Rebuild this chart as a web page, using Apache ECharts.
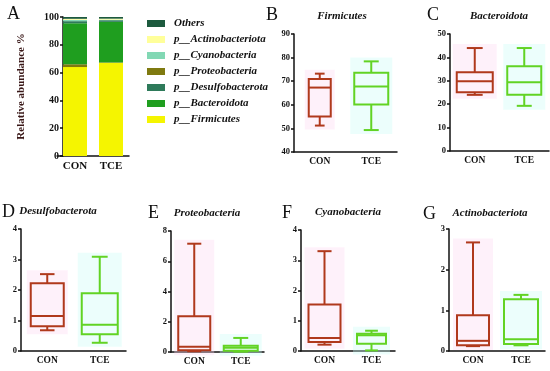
<!DOCTYPE html>
<html><head><meta charset="utf-8">
<script src="https://cdn.jsdelivr.net/npm/echarts@6/dist/echarts.min.js"></script>
<style>html,body{margin:0;padding:0;background:#fff}#c{width:550px;height:371px}</style>
</head><body><div id="c"></div>
<script>
const categories = ['CON', 'TCE'];
// Panel A: stacked relative abundance (bottom to top stacking order)
const stackNames = ['p__Firmicutes', 'p__Proteobacteria', 'p__Bacteroidota', 'p__Desulfobacterota', 'p__Cyanobacteria', 'p__Actinobacteriota', 'Others'];
const legendOrder = ['Others', 'p__Actinobacteriota', 'p__Cyanobacteria', 'p__Proteobacteria', 'p__Desulfobacterota', 'p__Bacteroidota', 'p__Firmicutes'];
const abundCON = [64.0, 2.0, 29.5, 1.5, 1.0, 0.7, 1.3];
const abundTCE = [67.0, 0.3, 29.2, 1.2, 0.4, 0.7, 1.2];
const abundTicks = [0, 20, 40, 60, 80, 100];

// Box plots: [min, Q1, median, Q3, max]
const firmCON = [51.2, 55.0, 67.3, 70.9, 73.2];
const firmTCE = [49.3, 60.1, 67.8, 73.6, 78.4];
const bactCON = [24.0, 25.1, 29.8, 33.7, 44.0];
const bactTCE = [19.3, 24.0, 29.4, 36.2, 44.0];
const desuCON = [0.68, 0.81, 1.15, 2.22, 2.52];
const desuTCE = [0.27, 0.55, 0.86, 1.89, 3.09];
const protCON = [0.05, 0.12, 0.35, 2.36, 7.16];
const protTCE = [0.02, 0.08, 0.28, 0.42, 0.93];
const cyanCON = [0.21, 0.30, 0.43, 1.54, 3.30];
const cyanTCE = [0.02, 0.24, 0.52, 0.57, 0.67];
const actiCON = [0.12, 0.14, 0.25, 0.88, 2.67];
const actiTCE = [0.14, 0.17, 0.29, 1.27, 1.38];

const FONT = '"Liberation Serif", "DejaVu Serif", serif';
const RED = '#b0391c', GREEN = '#62d324';
const TINT = ['rgba(252,214,240,0.35)', 'rgba(200,252,246,0.35)'];
const stackColors = {
  'p__Firmicutes': '#f5f500', 'p__Proteobacteria': '#7f7a10', 'p__Bacteroidota': '#1f9e1f',
  'p__Desulfobacterota': '#2e7a5a', 'p__Cyanobacteria': '#82d8b4', 'p__Actinobacteriota': '#ffff9a', 'Others': '#1d5a3e'
};

const panels = [
  {key:'B', title:'Firmicutes', con:firmCON, tce:firmTCE, min:40, max:90, iv:10, grid:{left:294, right:153, top:34, bottom:219}, bw:[22,34], letter:[266,6], tpos:[342,16]},
  {key:'C', title:'Bacteroidota', con:bactCON, tce:bactTCE, min:0, max:50, iv:10, grid:{left:450, right:1, top:34, bottom:220}, bw:[36,34], letter:[427,6], tpos:[499,16]},
  {key:'D', title:'Desulfobacterota', con:desuCON, tce:desuTCE, min:0, max:4, iv:1, grid:{left:21, right:424, top:229, bottom:20}, bw:[33,36], letter:[2,203], tpos:[58,211]},
  {key:'E', title:'Proteobacteria', con:protCON, tce:protTCE, min:0, max:8, iv:2, grid:{left:171, right:286, top:231, bottom:19}, bw:[32,34], letter:[148,204], tpos:[207,213]},
  {key:'F', title:'Cyanobacteria', con:cyanCON, tce:cyanTCE, min:0, max:4, iv:1, grid:{left:301, right:155, top:230, bottom:20}, bw:[32,29], letter:[282,204], tpos:[348,212]},
  {key:'G', title:'Actinobacteriota', con:actiCON, tce:actiTCE, min:0, max:3, iv:1, grid:{left:449, right:5, top:229, bottom:20}, bw:[32,34], letter:[423,205], tpos:[490,213]}
];

const grids = [{left:57, right:421, top:17, bottom:215}];
const xAxes = [{
  type:'category', data:categories, gridIndex:0,
  axisLine:{lineStyle:{color:'#111', width:1.5}},
  axisTick:{alignWithLabel:true, length:3, lineStyle:{color:'#111', width:1.5}},
  axisLabel:{fontFamily:FONT, fontWeight:'bold', fontSize:11, color:'#111', margin:5}
}];
const yAxes = [{
  type:'value', gridIndex:0, min:abundTicks[0], max:abundTicks[abundTicks.length-1], interval:20, offset:-6,
  name:'Relative abundance %', nameLocation:'middle', nameGap:36,
  nameTextStyle:{fontFamily:FONT, fontWeight:'bold', fontSize:11, color:'#3a1818'},
  splitLine:{show:false},
  axisLine:{show:true, lineStyle:{color:'#111', width:1.5}},
  axisTick:{show:true, length:3, lineStyle:{color:'#111', width:1.5}},
  axisLabel:{fontFamily:FONT, fontWeight:'bold', fontSize:10, color:'#111', margin:4}
}];
const series = stackNames.map((n, i) => ({
  name:n, type:'bar', stack:'a', xAxisIndex:0, yAxisIndex:0, barWidth:24,
  itemStyle:{color:stackColors[n]},
  data:[abundCON[i], abundTCE[i]]
}));

const graphic = [{type:'text', left:7, top:5, style:{text:'A', font:'18px ' + FONT, fill:'#111'}}];

panels.forEach((p, k) => {
  const gi = k + 1;
  grids.push(p.grid);
  xAxes.push({
    type:'category', data:categories, gridIndex:gi,
    axisLine:{lineStyle:{color:'#111', width:1.5}},
    axisTick:{alignWithLabel:true, length:3, lineStyle:{color:'#111', width:1.5}},
    axisLabel:{fontFamily:FONT, fontWeight:'bold', fontSize:9.5, color:'#111', margin:5}
  });
  yAxes.push({
    type:'value', gridIndex:gi, min:p.min, max:p.max, interval:p.iv,
    splitLine:{show:false},
    axisLine:{show:true, lineStyle:{color:'#111', width:1.5}},
    axisTick:{show:true, length:3, lineStyle:{color:'#111', width:1.5}},
    axisLabel:{fontFamily:FONT, fontWeight:'bold', fontSize:8.5, color:'#111', margin:4}
  });
  const bw = p.bw;
  series.push({
    type:'custom', xAxisIndex:gi, yAxisIndex:gi,
    data:[[0].concat(p.con), [1].concat(p.tce)],
    encode:{x:0, y:[1,2,3,4,5]},
    renderItem:function(params, api){
      const xi = api.value(0);
      const col = xi === 0 ? RED : GREEN;
      const w = bw[xi], hw = w/2, cw = w*0.22;
      const pMin = api.coord([xi, api.value(1)]);
      const pQ1 = api.coord([xi, api.value(2)]);
      const pMed = api.coord([xi, api.value(3)]);
      const pQ3 = api.coord([xi, api.value(4)]);
      const pMax = api.coord([xi, api.value(5)]);
      const cx = pMed[0];
      const st = {stroke:col, lineWidth:2, fill:null};
      return {type:'group', children:[
        {type:'rect', shape:{x:cx-hw-4, y:pMax[1]-4, width:w+8, height:pMin[1]-pMax[1]+8}, style:{fill:TINT[xi], stroke:null}},
        {type:'line', shape:{x1:cx, y1:pQ3[1], x2:cx, y2:pMax[1]}, style:st},
        {type:'line', shape:{x1:cx, y1:pQ1[1], x2:cx, y2:pMin[1]}, style:st},
        {type:'line', shape:{x1:cx-cw, y1:pMax[1], x2:cx+cw, y2:pMax[1]}, style:st},
        {type:'line', shape:{x1:cx-cw, y1:pMin[1], x2:cx+cw, y2:pMin[1]}, style:st},
        {type:'rect', shape:{x:cx-hw, y:pQ3[1], width:w, height:pQ1[1]-pQ3[1]}, style:{stroke:col, lineWidth:2, fill:'rgba(255,255,255,0)'}},
        {type:'line', shape:{x1:cx-hw, y1:pMed[1], x2:cx+hw, y2:pMed[1]}, style:st}
      ]};
    }
  });
  graphic.push({type:'text', left:p.letter[0], top:p.letter[1], style:{text:p.key, font:'18px ' + FONT, fill:'#111'}});
  graphic.push({type:'text', x:p.tpos[0], y:p.tpos[1], style:{text:p.title, font:'italic bold 11px ' + FONT, fill:'#111', align:'center', verticalAlign:'middle'}});
});

const chart = echarts.init(document.getElementById('c'), null, {renderer:'canvas'});
chart.setOption({
  animation:false,
  backgroundColor:'#fff',
  grid:grids, xAxis:xAxes, yAxis:yAxes, series:series, graphic:graphic,
  legend:{
    data:legendOrder, orient:'vertical', left:142, top:13,
    itemWidth:18, itemHeight:7, itemGap:5, icon:'rect',
    textStyle:{fontFamily:FONT, fontStyle:'italic', fontWeight:'bold', fontSize:11, color:'#111', padding:[0,0,0,4]}
  }
});
</script></body></html>
